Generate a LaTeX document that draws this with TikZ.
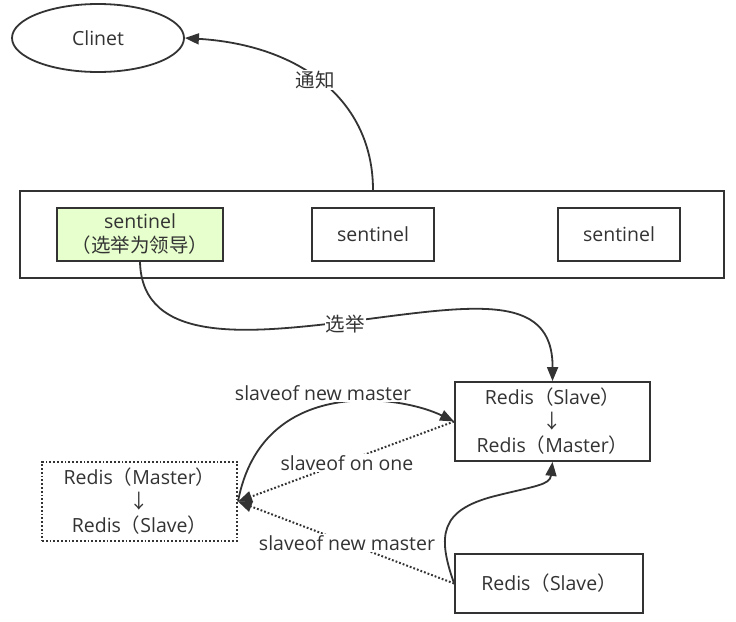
\documentclass[tikz,border=0pt]{standalone}
\usepackage{fontspec}
\setmainfont{Open Sans}
\newfontfamily\cjk{Noto Sans CJK SC}
\usetikzlibrary{shapes.geometric,arrows.meta}
\definecolor{ink}{HTML}{333333}
\definecolor{leaf}{HTML}{E6FFCC}
\begin{document}
\begin{tikzpicture}[x=1pt,y=-1pt,
  every node/.style={text=ink,font=\fontsize{19.5}{24}\selectfont,inner sep=1pt},
  box/.style={draw=ink,line width=1.8pt,rectangle,align=center,inner sep=0pt},
  conn/.style={draw=ink,line width=1.8pt},
  tip/.style={-{Triangle[length=14pt,width=11pt]}},
  dots/.style={dotted,line width=2pt},
  lbl/.style={fill=white,inner sep=1pt}]
\useasboundingbox (0,0) rectangle (736,621);
\fill[white] (0,0) rectangle (736,621);
\node[draw=ink,line width=1.8pt,ellipse,minimum width=172pt,minimum height=68pt] (clinet) at (98,38) {Clinet};
\node[box,minimum width=704pt,minimum height=87pt] (group) at (372,234.5) {};
\node[box,fill=leaf,minimum width=166pt,minimum height=53pt] (s1) at (140,234.5) {sentinel\\{\cjk （选举为领导）}};
\node[box,minimum width=122pt,minimum height=53pt] (s2) at (373,234.5) {sentinel};
\node[box,minimum width=122pt,minimum height=53pt] (s3) at (619,234.5) {sentinel};
\node[box,minimum width=195pt,minimum height=79pt] (nm) at (552.5,421.5) {Redis{\cjk （}Slave{\cjk ）}\\{\cjk ↓}\\Redis{\cjk （}Master{\cjk ）}};
\node[box,dots,minimum width=195pt,minimum height=79pt] (om) at (139.5,501.5) {Redis{\cjk （}Master{\cjk ）}\\{\cjk ↓}\\Redis{\cjk （}Slave{\cjk ）}};
\node[box,minimum width=188pt,minimum height=59pt] (bs) at (549,583.5) {Redis{\cjk （}Slave{\cjk ）}};
% notify
\draw[conn,tip] (group.north -| s2.north) .. controls (373,100) and (300,45) .. (clinet.east);
\node[lbl] (l1) at (315,80) {\cjk 通知};
% elect
\draw[conn,tip] (s1.south) .. controls (142,345) and (250,333) .. (345,322) .. controls (470,306) and (553,290) .. (nm.north);
\node[lbl] (l2) at (345,324) {\cjk 选举};
% old master -> new master
\draw[conn,tip] (om.east) .. controls (262,375) and (400,395) .. (nm.west);
\node[lbl] (l3) at (323,393) {slaveof new master};
% slaveof no one
\draw[conn,dots,tip] (nm.west) -- (om.east);
\node[lbl] (l4) at (347,463) {slaveof on one};
% bottom slave -> old master
\draw[conn,dots,tip] (bs.west) -- (om.east);
\node[lbl] (l5) at (347,543) {slaveof new master};
% bottom slave -> new master
\draw[conn,tip] (bs.west) .. controls (437,535) and (440,510) .. (495,496) .. controls (535,486) and (550,485) .. (nm.south);
\end{tikzpicture}
\end{document}
